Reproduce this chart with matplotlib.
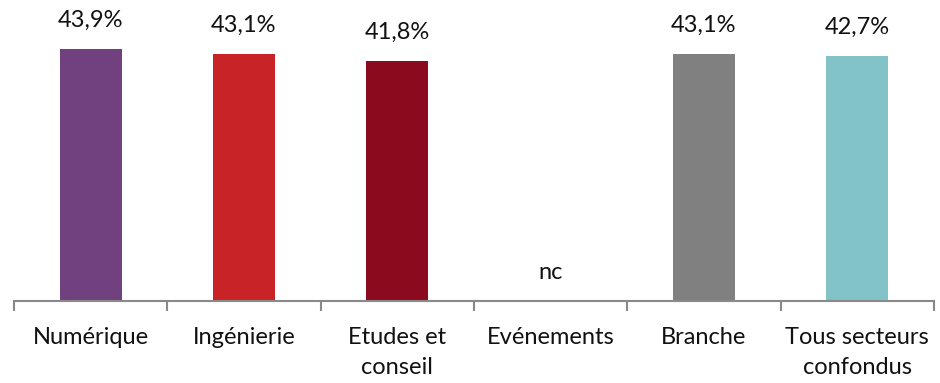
import matplotlib
matplotlib.use('Agg')
import matplotlib.pyplot as plt
import numpy as np

categories = ['Numérique', 'Ingénierie', 'Etudes et\nconseil', 'Evénements', 'Branche', 'Tous secteurs\nconfondus']
values = [43.9, 43.1, 41.8, np.nan, 43.1, 42.7]
labels = ['43,9%', '43,1%', '41,8%', 'nc', '43,1%', '42,7%']
colors = ['#71407F', '#C82327', '#8C0A1E', '#FFFFFF', '#808080', '#81C3C7']

plt.rcParams['font.family'] = ['Lato', 'DejaVu Sans']

fig = plt.figure(figsize=(9.4, 3.83), dpi=100)
ax = fig.add_axes([14/940, 82/383, 920/940, 287/383])

x = np.arange(len(categories))
heights = [0 if np.isnan(v) else v for v in values]
ax.bar(x, heights, width=0.405, color=colors)

for xi, h, lab in zip(x, heights, labels):
    ax.annotate(lab, (xi, h), xytext=(0, 13), textcoords='offset points',
                ha='center', va='bottom', fontsize=17, color='#111111')

ax.set_xlim(-0.5, len(categories) - 0.5)
ax.set_ylim(0, 50)

for s in ['top', 'right', 'left']:
    ax.spines[s].set_visible(False)
ax.spines['bottom'].set_color('#898989')
ax.spines['bottom'].set_linewidth(1.5)
ax.set_yticks([])

ax.set_xticks(x)
ax.set_xticklabels(categories, fontsize=17, color='#111111', linespacing=1.5)
ax.tick_params(axis='x', which='major', length=0, pad=19)
ax.set_xticks(np.arange(len(categories) + 1) - 0.5, minor=True)
ax.tick_params(axis='x', which='minor', length=7, width=1.5, color='#898989')

fig.savefig('out.png', dpi=100)
